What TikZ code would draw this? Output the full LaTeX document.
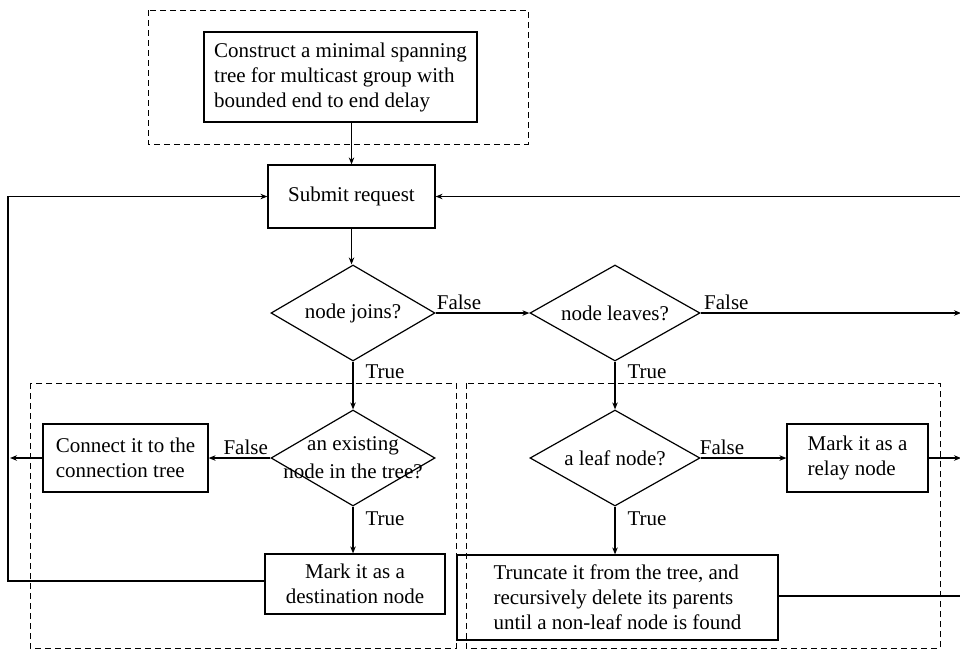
\documentclass[tikz,border=0pt]{standalone}
\usepackage{fontspec}
\setmainfont{Liberation Serif}
\usetikzlibrary{shapes.geometric,arrows.meta}
\begin{document}
\begin{tikzpicture}[x=1pt,y=-1pt,
  font=\fontsize{21}{25}\selectfont,
  line width=1.2pt,
  >={Stealth[length=7pt,width=5.5pt]},
  box/.style={draw, inner sep=0pt},
  dia/.style={draw, diamond, inner sep=0pt},
  grp/.style={draw, line width=1pt, dash pattern=on 6pt off 4pt},
  lbl/.style={inner sep=3pt},
  tlbl/.style={inner sep=3pt, right, xshift=9pt}]
\useasboundingbox (0,0) rectangle (960,659);
% dashed groups
\draw[grp] (148,10) rectangle (528,144);
\draw[grp] (30,383) rectangle (456,648);
\draw[grp] (466,383) rectangle (940,648);
% nodes
\node[box, minimum width=273, minimum height=90, align=left] (top) at (340.5,77)
  {Construct a minimal spanning\\tree for multicast group with\\bounded end to end delay};
\node[box, minimum width=167, minimum height=63] (sub) at (351.5,196.5) {Submit request};
\node[dia, minimum width=164, minimum height=96] (d1) at (353,313) {};
\node (t1) at (d1.center) {node joins?};
\node[dia, minimum width=170, minimum height=96] (d2) at (615,313) {};
\node (t2) at (d2.center) {node leaves?};
\node[dia, minimum width=164, minimum height=96] (d3) at (353,458) {};
\node[align=center] (t3) at (d3.center) {an existing\\[3pt]node in the tree?};
\node[dia, minimum width=170, minimum height=96] (d4) at (615,458) {};
\node (t4) at (d4.center) {a leaf node?};
\node[box, minimum width=165, minimum height=68, align=left] (conn) at (125.5,458)
  {Connect it to the\\connection tree};
\node[box, minimum width=180, minimum height=60, align=center] (dest) at (355,584)
  {Mark it as a\\destination node};
\node[box, minimum width=141, minimum height=68, align=left] (relay) at (857.5,458)
  {Mark it as a\\relay node};
\node[box, minimum width=321, minimum height=85, align=left] (trunc) at (617.5,597.5)
  {Truncate it from the tree, and\\recursively delete its parents\\until a non-leaf node is found};
% helper coordinates
\coordinate (lb) at (8,581);
\coordinate (lm) at (10,458);
\coordinate (rb) at (962,596);
\coordinate (r1) at (961,313);
\coordinate (r2) at (961,458);
% connectors
\draw[->] (top.south -| sub.north) -- (sub.north);
\draw[->] (sub.south) -- (sub.south |- d1.north);
\draw[->] (d1.east) -- node[lbl, pos=0.25, above] {False} (d2.west);
\draw[->] (d2.east) -- node[lbl, pos=0.0, above right] {False} (r1);
\draw[->] (d1.south) -- node[tlbl, pos=0.22] {True} (d3.north);
\draw[->] (d2.south) -- node[tlbl, pos=0.22] {True} (d4.north);
\draw[->] (d3.west) -- node[lbl, pos=0.4, above] {False} (conn.east);
\draw[->] (d3.south) -- node[tlbl, pos=0.25] {True} (d3.south |- dest.north);
\draw[->] (d4.east) -- node[lbl, pos=0.25, above] {False} (relay.west);
\draw[->] (d4.south) -- node[tlbl, pos=0.25] {True} (d4.south |- trunc.north);
\draw[->] (conn.west) -- (lm);
\draw[->] (relay.east) -- (r2);
\draw[->] (dest.west |- lb) -- (lb) |- (sub.west);
\draw[->] (trunc.east |- rb) -- (rb) |- (sub.east);
\end{tikzpicture}
\end{document}
